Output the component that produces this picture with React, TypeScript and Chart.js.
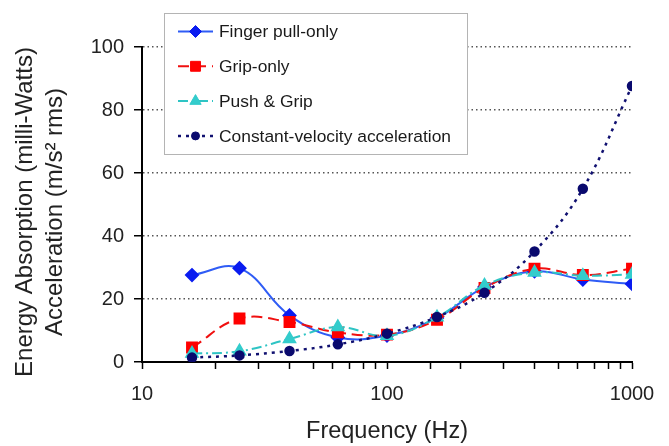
import React, { useEffect, useRef } from 'react';
import { Chart, registerables } from 'chart.js';
import { drawPoint } from 'chart.js/helpers';

Chart.register(...registerables);

const frequencies = [16, 25, 40, 63, 100, 160, 250, 400, 630, 1000];
const fingerPull = [27.6, 29.8, 14.8, 7.8, 8.4, 14.0, 23.8, 28.8, 26.2, 24.8];
const gripOnly = [4.6, 13.8, 12.7, 9.4, 8.7, 13.4, 23.5, 29.6, 27.6, 29.6];
const pushGrip = [2.7, 3.4, 7.3, 11.1, 8.3, 14.2, 24.3, 28.4, 27.4, 27.8];
const constVel = [1.4, 2.1, 3.5, 5.6, 9.0, 14.3, 22.0, 35.1, 55.0, 87.6];
const seriesNames = ['Finger pull-only', 'Grip-only', 'Push & Grip', 'Constant-velocity acceleration'];
const yTitleLines = ['Energy Absorption (milli-Watts)', 'Acceleration (m/s\u00B2 rms)'];
const xTitle = 'Frequency (Hz)';
const xTickLabels = [10, 100, 1000];
const yTickStep = 20;
const yMax = 100;

const FONT = "'Liberation Sans', Arial, sans-serif";

const yTitlePlugin = {
  id: 'yTitle',
  afterDraw(chart: any) {
    const ctx = chart.ctx as CanvasRenderingContext2D;
    ctx.save();
    ctx.fillStyle = '#222';
    ctx.font = `24px ${FONT}`;
    ctx.textAlign = 'center';
    ctx.textBaseline = 'middle';
    const xs = [25, 55];
    yTitleLines.forEach((line, i) => {
      ctx.save();
      ctx.translate(xs[i], 212);
      ctx.rotate(-Math.PI / 2);
      ctx.fillText(line, 0, 0);
      ctx.restore();
    });
    ctx.restore();
  },
};

const legendPlugin = {
  id: 'boxLegend',
  afterDraw(chart: any) {
    const ctx = chart.ctx as CanvasRenderingContext2D;
    ctx.save();
    ctx.setLineDash([]);
    ctx.fillStyle = '#ffffff';
    ctx.fillRect(164.5, 13.5, 303, 141);
    ctx.strokeStyle = '#b4b4b4';
    ctx.lineWidth = 1;
    ctx.strokeRect(164.5, 13.5, 303, 141);
    chart.data.datasets.forEach((ds: any, i: number) => {
      const y = 31.5 + i * 34.8;
      ctx.strokeStyle = ds.borderColor;
      ctx.lineWidth = ds.borderWidth;
      ctx.setLineDash(ds.borderDash || []);
      ctx.beginPath();
      ctx.moveTo(178, y);
      ctx.lineTo(213, y);
      ctx.stroke();
      ctx.setLineDash([]);
      ctx.fillStyle = ds.pointBackgroundColor;
      ctx.strokeStyle = ds.pointBorderColor;
      ctx.lineWidth = 1;
      drawPoint(ctx, { pointStyle: ds.pointStyle, radius: ds.pointRadius, rotation: 0, borderWidth: 1 } as any, 195.5, y);
      ctx.fillStyle = '#1a1a1a';
      ctx.font = `17.4px ${FONT}`;
      ctx.textBaseline = 'middle';
      ctx.textAlign = 'left';
      ctx.fillText(ds.label, 219, y + 1);
    });
    ctx.restore();
  },
};

export default function App() {
  const ref = useRef<HTMLCanvasElement | null>(null);

  useEffect(() => {
    if (!ref.current) return;
    const mk = (vals: number[]) => frequencies.map((f, i) => ({ x: f, y: vals[i] }));
    const chart = new Chart(ref.current, {
      type: 'line',
      data: {
        datasets: [
          {
            label: seriesNames[0],
            data: mk(fingerPull),
            borderColor: '#2f5cf5',
            borderWidth: 2,
            borderDash: [],
            pointStyle: 'rectRot',
            pointRadius: 6,
            pointBackgroundColor: '#0a1cf0',
            pointBorderColor: '#0a1cf0',
            tension: 0.4,
            order: 3,
          },
          {
            label: seriesNames[1],
            data: mk(gripOnly),
            borderColor: '#f01010',
            borderWidth: 2,
            borderDash: [11, 6],
            pointStyle: 'rect',
            pointRadius: 7,
            pointBackgroundColor: '#ff0000',
            pointBorderColor: '#ff0000',
            tension: 0.4,
            order: 2,
          },
          {
            label: seriesNames[2],
            data: mk(pushGrip),
            borderColor: '#2ec4c4',
            borderWidth: 2,
            borderDash: [10, 4, 2, 4],
            pointStyle: 'triangle',
            pointRadius: 6.5,
            pointBackgroundColor: '#33cccc',
            pointBorderColor: '#33cccc',
            tension: 0.4,
            order: 1,
          },
          {
            label: seriesNames[3],
            data: mk(constVel),
            borderColor: '#101070',
            borderWidth: 2.5,
            borderDash: [3, 5],
            pointStyle: 'circle',
            pointRadius: 4,
            pointBackgroundColor: '#0a0a6e',
            pointBorderColor: '#0a0a6e',
            tension: 0.4,
            order: 0,
          },
        ],
      },
      options: {
        animation: false,
        responsive: true,
        maintainAspectRatio: false,
        layout: { padding: { top: 47, right: 37, left: 0, bottom: 0 } },
        plugins: { legend: { display: false }, tooltip: { enabled: false } },
        scales: {
          x: {
            type: 'logarithmic',
            min: 10,
            max: 1000,
            afterFit: (s: any) => { s.height = 84; },
            grid: {
              display: true,
              drawOnChartArea: false,
              drawTicks: true,
              tickLength: 7,
              tickColor: '#000',
              tickWidth: 1.5,
            },
            border: { display: true, color: '#000', width: 2 },
            ticks: {
              autoSkip: false,
              maxRotation: 0,
              padding: 13,
              color: '#222',
              font: { family: FONT, size: 20 },
              callback: (v: any) => {
                const n = Number(v);
                return xTickLabels.some((t) => Math.abs(t - n) < 1e-6) ? String(n) : '';
              },
            },
            title: {
              display: true,
              text: xTitle,
              color: '#222',
              font: { family: FONT, size: 23.5 },
              padding: { top: 0, bottom: 0 },
            },
          },
          y: {
            min: 0,
            max: yMax,
            afterFit: (s: any) => { s.width = 142; },
            grid: {
              color: (c: any) => (c.tick && c.tick.value === 0 ? 'rgba(0,0,0,0)' : '#555'),
              lineWidth: 1.5,
              drawTicks: true,
              tickLength: 8,
              tickColor: '#000',
              tickWidth: 1.5,
              tickBorderDash: [],
            },
            border: { display: true, color: '#000', width: 2, dash: [1.5, 3] },
            ticks: {
              stepSize: yTickStep,
              padding: 10,
              color: '#222',
              font: { family: FONT, size: 20 },
            },
            title: { display: false },
          },
        },
      },
      plugins: [yTitlePlugin, legendPlugin],
    } as any);
    return () => chart.destroy();
  }, []);

  return (
    <div style={{ position: 'absolute', left: 0, top: 0, width: 669, height: 446, background: '#fff' }}>
      <canvas ref={ref} />
    </div>
  );
}
